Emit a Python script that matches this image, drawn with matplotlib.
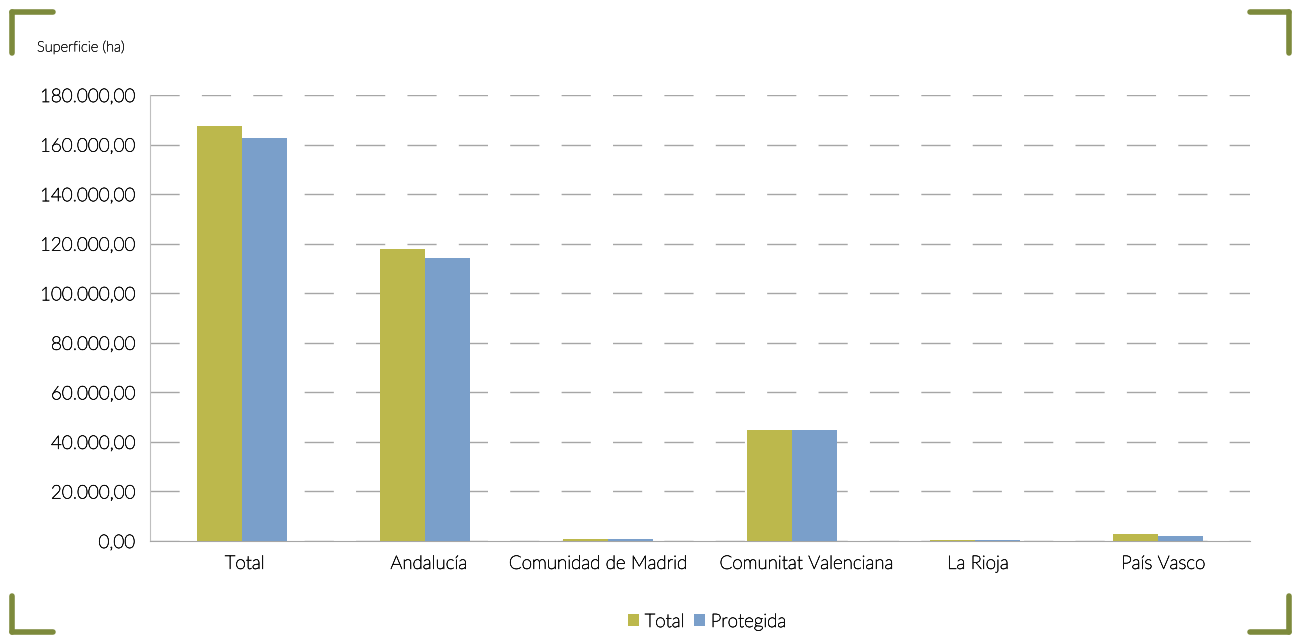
import matplotlib
matplotlib.use("Agg")
import matplotlib.pyplot as plt
import matplotlib.patheffects as pe
import matplotlib.transforms as mtransforms
import numpy as np
from matplotlib.lines import Line2D
from matplotlib.ticker import FuncFormatter

categories = ["Total", "Andalucía", "Comunidad de Madrid", "Comunitat Valenciana", "La Rioja", "País Vasco"]
total = [167300, 118000, 800, 44800, 600, 2800]
protegida = [162800, 114300, 700, 44800, 300, 2000]
series_names = ["Total", "Protegida"]
yticks = list(range(0, 180001, 20000))

green = "#bcb84c"
blue = "#7a9fca"
bracket = "#7d8a3c"
font = ["Lato", "DejaVu Sans"]
tw = "light"
peff = [pe.withStroke(linewidth=0.45, foreground="#111111")]
label_shift_px = [3, 4, -10, 15, 3, 5]

plt.rcParams["font.family"] = font
fig = plt.figure(figsize=(12.95, 6.35), dpi=100)
ax = fig.add_axes([150/1295, 1 - 541/635, (1250-150)/1295, (541-95)/635])

x = np.arange(len(categories))
w = 0.245
ax.bar(x - w/2, total, width=w, color=green, label=series_names[0], zorder=3)
ax.bar(x + w/2, protegida, width=w, color=blue, label=series_names[1], zorder=3)

ax.set_xlim(-0.5, len(categories) - 0.5)
ax.set_ylim(0, 180000)
ax.set_yticks(yticks)
fmt = lambda v, p: f"{v:,.2f}".replace(",", "X").replace(".", ",").replace("X", ".")
ax.yaxis.set_major_formatter(FuncFormatter(fmt))
ax.set_xticks(x)
ax.set_xticklabels(categories)
ax.tick_params(axis="x", length=0, pad=10, labelsize=13.5, labelcolor="#111111")
ax.tick_params(axis="y", length=0, pad=11, labelsize=13.5, labelcolor="#111111")
for lab in ax.get_xticklabels() + ax.get_yticklabels():
    lab.set_fontweight(tw)
    lab.set_path_effects(peff)
for lab, dx in zip(ax.get_xticklabels(), label_shift_px):
    lab.set_transform(lab.get_transform() + mtransforms.ScaledTranslation(dx/100, 0, fig.dpi_scale_trans))

ax.grid(axis="y", color="#a6a6a6", linestyle=(0, (21, 16)), linewidth=1, zorder=0)
ax.set_axisbelow(True)
for s in ["top", "right"]:
    ax.spines[s].set_visible(False)
ax.spines["left"].set_color("#bfbfbf")
ax.spines["bottom"].set_color("#a6a6a6")

fig.text(37/1295, 1 - 47/635, "Superficie (ha)", fontsize=10.5, color="#222222",
         fontweight=tw, va="center", ha="left",
         path_effects=[pe.withStroke(linewidth=0.35, foreground="#222222")])

leg = fig.legend(loc="center", bbox_to_anchor=(707/1295, 1 - 622/635), ncol=2, frameon=False,
                 fontsize=13.5, handlelength=0.6, handleheight=0.6, handletextpad=0.3,
                 columnspacing=0.5)
for t in leg.get_texts():
    t.set_fontweight(tw)
    t.set_color("#111111")
    t.set_path_effects(peff)

def seg(x0, y0, x1, y1):
    fig.add_artist(Line2D([x0/1295, x1/1295], [1 - y0/635, 1 - y1/635], color=bracket,
                          linewidth=4, solid_capstyle="round", transform=fig.transFigure))

seg(12, 12, 53, 12); seg(12, 12, 12, 53)
seg(1250, 12, 1289, 12); seg(1289, 12, 1289, 53)
seg(12, 596, 12, 632); seg(12, 632, 53, 632)
seg(1289, 596, 1289, 632); seg(1250, 632, 1289, 632)

fig.savefig("out.png", dpi=100)
